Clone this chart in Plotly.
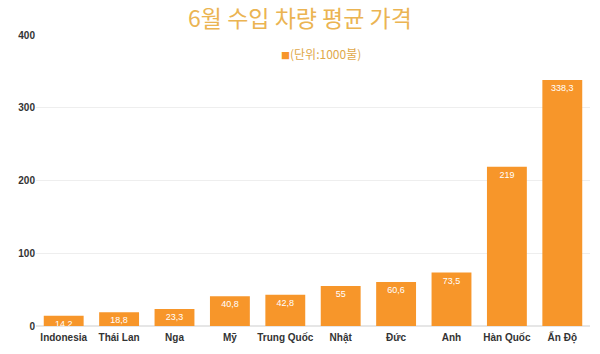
import plotly.graph_objects as go

countries = ["Indonesia", "Thái Lan", "Nga", "Mỹ", "Trung Quốc", "Nhật", "Đức", "Anh", "Hàn Quốc", "Ấn Độ"]
prices = [14.2, 18.8, 23.3, 40.8, 42.8, 55, 60.6, 73.5, 219, 338.3]
y_ticks = [0, 100, 200, 300, 400]
series_name = "(단위:1000불)"
bar_color = "#F7962A"

labels = [("%g" % v).replace(".", ",") for v in prices]

fig = go.Figure()
fig.add_trace(go.Bar(
    x=countries, y=prices, name=series_name, showlegend=False,
    marker=dict(color=bar_color, line=dict(width=0)),
    text=labels, textposition="inside", insidetextanchor="end",
    constraintext="none",
    textfont=dict(color="white", size=9, family="Liberation Sans"),
    textangle=0,
))
fig.add_annotation(
    text=f'<span style="color:{bar_color};font-size:9px">■</span>{series_name}',
    xref="paper", yref="paper", x=0.515, y=0.938, xanchor="center", yanchor="middle",
    showarrow=False, font=dict(size=12, color="#E0A84A", family="Noto Sans CJK KR"),
)
fig.update_layout(
    width=600, height=354,
    margin=dict(l=36, r=10, t=35, b=28),
    paper_bgcolor="white", plot_bgcolor="white",
    bargap=0.28,
    title=dict(text="6월 수입 차량 평균 가격", x=0.5, xanchor="center", y=0.947, yanchor="middle",
               font=dict(size=23, color="#EBB452", family="Noto Sans CJK KR")),
    showlegend=False,
    yaxis=dict(range=[0, 400], tickvals=y_ticks, showgrid=True, gridcolor="#EEEEEE",
               zeroline=True, zerolinecolor="#E6E6E6", ticks="", ticklen=0,
               tickfont=dict(size=10, color="#333333", family="Liberation Sans", weight="bold")),
    xaxis=dict(showgrid=False, ticks="", showline=False, ticklabelstandoff=4,
               tickfont=dict(size=10, color="#333333", family="Liberation Sans", weight="bold")),
)
fig.write_html("out.html")
